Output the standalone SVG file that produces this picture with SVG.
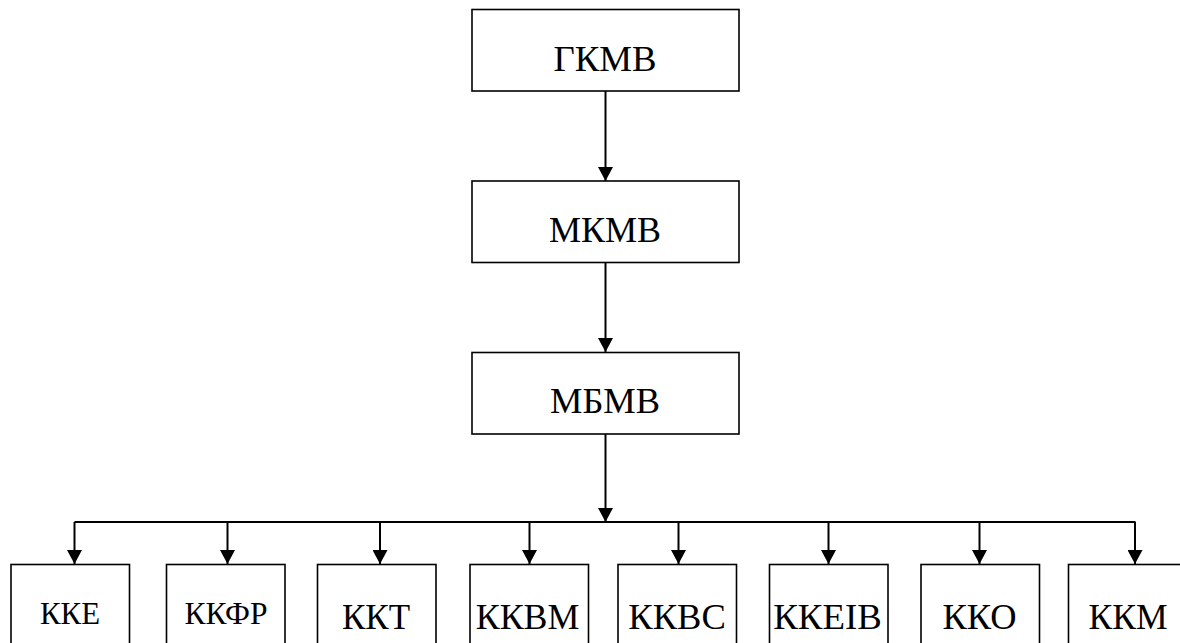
<svg xmlns="http://www.w3.org/2000/svg" width="1180" height="643" viewBox="0 0 1180 643">
<style>
.box{fill:#fff;stroke:#000;stroke-width:1.6}
.ln{fill:none;stroke:#000;stroke-width:2}
.t{font-family:"Liberation Serif","DejaVu Serif","Times New Roman",serif;font-size:36px;fill:#000;text-anchor:middle}
.s{font-size:31px}
</style>
<defs>
<marker id="ah" markerUnits="userSpaceOnUse" markerWidth="16" markerHeight="15" refX="15" refY="8" orient="auto" viewBox="0 0 15 16">
<path d="M0,0 L15,8 L0,16 Z" fill="#000"/>
</marker>
</defs>
<rect width="1180" height="643" fill="#fff"/>
<g id="connectors">
<line class="ln" x1="605.5" y1="91" x2="605.5" y2="181" marker-end="url(#ah)"/>
<line class="ln" x1="605.5" y1="262" x2="605.5" y2="352" marker-end="url(#ah)"/>
<line class="ln" x1="605.5" y1="434" x2="605.5" y2="522" marker-end="url(#ah)"/>
<line class="ln" x1="74.5" y1="522" x2="1135.5" y2="522"/>
<line class="ln" x1="74.5" y1="522" x2="74.5" y2="564" marker-end="url(#ah)"/>
<line class="ln" x1="227.5" y1="522" x2="227.5" y2="564" marker-end="url(#ah)"/>
<line class="ln" x1="380" y1="522" x2="380" y2="564" marker-end="url(#ah)"/>
<line class="ln" x1="529.5" y1="522" x2="529.5" y2="564" marker-end="url(#ah)"/>
<line class="ln" x1="678.5" y1="522" x2="678.5" y2="564" marker-end="url(#ah)"/>
<line class="ln" x1="828.5" y1="522" x2="828.5" y2="564" marker-end="url(#ah)"/>
<line class="ln" x1="979.5" y1="522" x2="979.5" y2="564" marker-end="url(#ah)"/>
<line class="ln" x1="1135" y1="522" x2="1135" y2="564" marker-end="url(#ah)"/>
</g>
<g id="n-gkmv"><rect class="box" x="472" y="9.5" width="267" height="81.5"/><text class="t" x="605" y="70.5" textLength="103" lengthAdjust="spacingAndGlyphs">ГКМВ</text></g>
<g id="n-mkmv"><rect class="box" x="472" y="181" width="267" height="81.5"/><text class="t" x="605" y="241.5" textLength="112" lengthAdjust="spacingAndGlyphs">МКМВ</text></g>
<g id="n-mbmv"><rect class="box" x="472" y="352.5" width="267" height="81.5"/><text class="t" x="605" y="412.5" textLength="110" lengthAdjust="spacingAndGlyphs">МБМВ</text></g>
<g id="n-kke"><rect class="box" x="11" y="564.5" width="118.5" height="90"/><text class="t s" x="70" y="623.5" textLength="60" lengthAdjust="spacingAndGlyphs">ККЕ</text></g>
<g id="n-kkfr"><rect class="box" x="166.5" y="564.5" width="118.5" height="90"/><text class="t s" x="226" y="623.5" textLength="83" lengthAdjust="spacingAndGlyphs">ККФР</text></g>
<g id="n-kkt"><rect class="box" x="317.5" y="564.5" width="118.5" height="90"/><text class="t" x="376" y="628.5" textLength="68" lengthAdjust="spacingAndGlyphs">ККТ</text></g>
<g id="n-kkvm"><rect class="box" x="470" y="564.5" width="118.5" height="90"/><text class="t" x="527.5" y="628.5" textLength="103.5" lengthAdjust="spacingAndGlyphs">ККВМ</text></g>
<g id="n-kkvs"><rect class="box" x="618" y="564.5" width="118.5" height="90"/><text class="t" x="677" y="628.5" textLength="97.5" lengthAdjust="spacingAndGlyphs">ККВС</text></g>
<g id="n-kkeiv"><rect class="box" x="769.5" y="564.5" width="118.5" height="90"/><text class="t" x="827.5" y="628.5" textLength="108.5" lengthAdjust="spacingAndGlyphs">ККЕІВ</text></g>
<g id="n-kko"><rect class="box" x="921" y="564.5" width="118.5" height="90"/><text class="t" x="979.5" y="628.5" textLength="74" lengthAdjust="spacingAndGlyphs">ККО</text></g>
<g id="n-kkm"><rect class="box" x="1068.5" y="564.5" width="118.5" height="90"/><text class="t" x="1128" y="628.5" textLength="79" lengthAdjust="spacingAndGlyphs">ККМ</text></g>
</svg>
